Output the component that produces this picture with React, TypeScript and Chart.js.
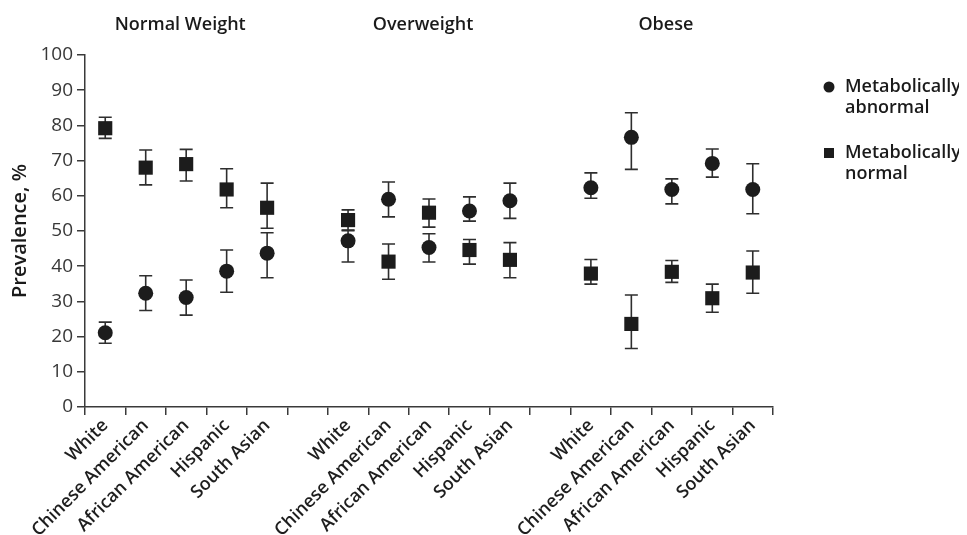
import React, { useEffect, useRef } from "react";
import { Chart, registerables } from "chart.js";

Chart.register(...registerables);

const categories = [
  "White", "Chinese American", "African American", "Hispanic", "South Asian", "",
  "White", "Chinese American", "African American", "Hispanic", "South Asian", "",
  "White", "Chinese American", "African American", "Hispanic", "South Asian",
];

const groupTitles = ["Normal Weight", "Overweight", "Obese"];
const groupCenterIndex = [2, 8, 14];

const abnormalMean = [21.1, 32.3, 31.1, 38.6, 43.7, null, 47.2, 59.0, 45.3, 55.7, 58.6, null, 62.3, 76.6, 61.8, 69.2, 61.8];
const abnormalLow = [18.1, 27.4, 26.1, 32.6, 36.7, null, 41.2, 54.0, 41.2, 52.8, 53.6, null, 59.3, 67.5, 57.7, 65.3, 54.9];
const abnormalHigh = [24.1, 37.3, 36.1, 44.6, 49.5, null, 50.1, 63.9, 49.2, 59.7, 63.6, null, 66.5, 83.6, 64.8, 73.3, 69.1];

const normalMean = [79.2, 68.0, 69.0, 61.8, 56.6, null, 53.1, 41.3, 55.2, 44.6, 41.8, null, 37.9, 23.6, 38.4, 30.9, 38.2];
const normalLow = [76.3, 63.1, 64.2, 56.6, 50.8, null, 50.3, 36.3, 51.1, 40.6, 36.7, null, 34.9, 16.6, 35.4, 26.9, 32.3];
const normalHigh = [82.3, 73.0, 73.2, 67.7, 63.6, null, 56.0, 46.3, 59.1, 47.6, 46.7, null, 41.9, 31.8, 41.6, 34.9, 44.3];

const legendLabels = [["Metabolically", "abnormal"], ["Metabolically", "normal"]];

const FONT = "'Open Sans', 'DejaVu Sans', sans-serif";
const MARK = "#1c1c1c";
const AXIS = "#3a3a3a";

const errorBarsPlugin = {
  id: "errorBars",
  beforeDatasetsDraw(chart: any) {
    const { ctx, scales } = chart;
    const x = scales.x, y = scales.y;
    const pairs = [[abnormalLow, abnormalHigh], [normalLow, normalHigh]];
    ctx.save();
    ctx.strokeStyle = "#2e2e2e";
    ctx.lineWidth = 1.6;
    pairs.forEach(([lo, hi]) => {
      lo.forEach((l: any, i: number) => {
        const h = hi[i];
        if (l == null || h == null) return;
        const px = x.getPixelForValue(i);
        const y1 = y.getPixelForValue(l);
        const y2 = y.getPixelForValue(h);
        ctx.beginPath();
        ctx.moveTo(px, y1);
        ctx.lineTo(px, y2);
        ctx.moveTo(px - 6.5, y1);
        ctx.lineTo(px + 6.5, y1);
        ctx.moveTo(px - 6.5, y2);
        ctx.lineTo(px + 6.5, y2);
        ctx.stroke();
      });
    });
    ctx.restore();
  },
};

const decorPlugin = {
  id: "decor",
  afterDraw(chart: any) {
    const { ctx, scales } = chart;
    const x = scales.x;
    ctx.save();
    ctx.fillStyle = "#1a1a1a";
    ctx.font = `600 18px ${FONT}`;
    ctx.textAlign = "center";
    ctx.textBaseline = "middle";
    groupTitles.forEach((t, k) => {
      ctx.fillText(t, x.getPixelForValue(groupCenterIndex[k]) - 6, 17);
    });
    // legend
    const lx = 821;
    const rows = [79, 145];
    ctx.textAlign = "left";
    ctx.font = `600 18px ${FONT}`;
    legendLabels.forEach((lines, k) => {
      const ly = rows[k];
      ctx.fillStyle = MARK;
      if (k === 0) {
        ctx.beginPath();
        ctx.arc(lx, ly, 5.5, 0, Math.PI * 2);
        ctx.fill();
      } else {
        ctx.fillRect(lx - 5, ly - 5, 10, 10);
      }
      ctx.fillStyle = "#1a1a1a";
      lines.forEach((ln, j) => ctx.fillText(ln, lx + 16, ly + j * 21));
    });
    ctx.restore();
  },
};

export default function App() {
  const ref = useRef<HTMLCanvasElement | null>(null);
  useEffect(() => {
    if (!ref.current) return;
    const chart = new Chart(ref.current, {
      type: "line",
      data: {
        labels: categories,
        datasets: [
          {
            label: "Metabolically abnormal",
            data: abnormalMean,
            showLine: false,
            pointStyle: "circle",
            pointRadius: 7.5,
            backgroundColor: MARK,
            borderColor: MARK,
            borderWidth: 0,
          },
          {
            label: "Metabolically normal",
            data: normalMean,
            showLine: false,
            pointStyle: "rect",
            pointRadius: 10,
            backgroundColor: MARK,
            borderColor: MARK,
            borderWidth: 0,
          },
        ],
      },
      options: {
        animation: false,
        responsive: true,
        maintainAspectRatio: false,
        layout: { padding: { top: 47, right: 186, left: 0, bottom: 0 } },
        plugins: { legend: { display: false }, tooltip: { enabled: false } },
        scales: {
          x: {
            type: "category",
            offset: true,
            grid: {
              offset: true,
              drawOnChartArea: false,
              drawTicks: true,
              tickLength: 8,
              color: AXIS,
              lineWidth: 1.5,
            },
            border: { color: AXIS, width: 1.5 },
            ticks: {
              autoSkip: false,
              maxRotation: 45,
              minRotation: 45,
              color: "#1e1e1e",
              font: { family: FONT, size: 18, weight: "600" },
              padding: 0,
            },
            afterFit(s: any) {
              s.height = 128;
            },
          },
          y: {
            min: 0,
            max: 100,
            ticks: {
              stepSize: 10,
              color: "#383838",
              font: { family: FONT, size: 19 },
              padding: 4,
            },
            grid: {
              drawOnChartArea: false,
              drawTicks: true,
              tickLength: 8,
              color: AXIS,
              lineWidth: 1.5,
            },
            border: { color: AXIS, width: 1.5 },
            title: {
              display: true,
              text: "Prevalence, %",
              color: "#1a1a1a",
              font: { family: FONT, size: 20, weight: "600" },
              padding: 0,
            },
            afterFit(s: any) {
              s.width = 77;
            },
          },
        },
      },
      plugins: [errorBarsPlugin, decorPlugin],
    });
    return () => chart.destroy();
  }, []);
  return (
    <div style={{ position: "fixed", left: 8, top: 8, width: 951, height: 527 }}>
      <canvas ref={ref} style={{ display: "block" }} />
    </div>
  );
}
